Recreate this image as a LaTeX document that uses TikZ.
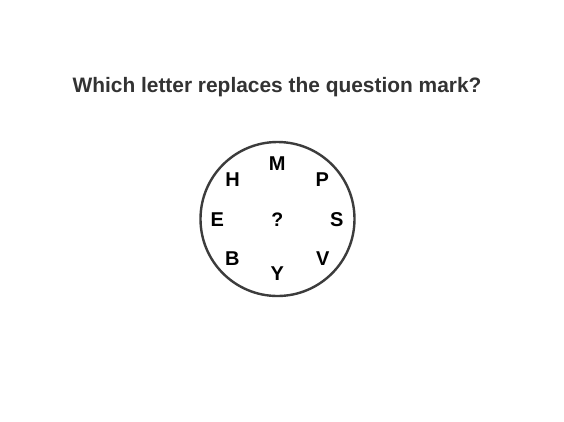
\documentclass[tikz,border=0pt]{standalone}
\usepackage{fontspec}
\setmainfont{Liberation Sans}
\usepackage{xcolor}
\definecolor{ink}{RGB}{51,51,51}
\definecolor{rim}{RGB}{60,60,60}

\begin{document}
\begin{tikzpicture}[
    x=1pt,y=-1pt,
    ttl/.style={font=\fontsize{20.9}{24}\selectfont\bfseries,text=ink,anchor=base,inner sep=0pt},
    ltr/.style={font=\fontsize{20}{22}\selectfont\bfseries,text=black,inner sep=0pt},
    qm/.style={font=\fontsize{19.5}{22}\selectfont\bfseries,text=black,inner sep=0pt},
    ring/.style={circle,draw=rim,line width=2.4pt,minimum size=154pt,inner sep=0pt}
  ]
  \useasboundingbox[fill=white] (0,0) rectangle (564,421);
  \node[ttl]   (title) at (277,92)      {Which letter replaces the question mark?};
  \node[ring]  (wheel) at (277.5,219)   {};
  \node[qm]    (quest) at (277.3,219.3) {?};
  \node[ltr]   (m)     at (277.3,163.3) {M};
  \node[ltr]   (p)     at (322.3,179.3) {P};
  \node[ltr]   (s)     at (336.7,219.3) {S};
  \node[ltr]   (v)     at (322.7,258.3) {V};
  \node[ltr]   (y)     at (277.3,274)   {Y};
  \node[ltr]   (b)     at (232.3,258.3) {B};
  \node[ltr]   (e)     at (217.3,219.3) {E};
  \node[ltr]   (h)     at (232.7,180)   {H};
\end{tikzpicture}
\end{document}
